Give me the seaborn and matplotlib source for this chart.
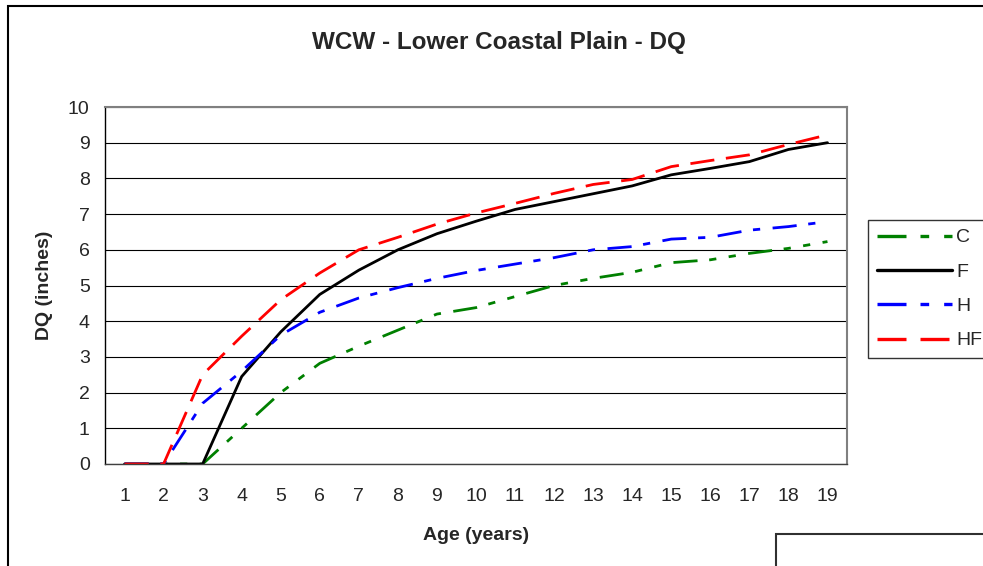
import numpy as np
import pandas as pd
import matplotlib
matplotlib.use("Agg")
import matplotlib.pyplot as plt
from matplotlib.patches import Rectangle
from matplotlib.ticker import MultipleLocator, FixedLocator
import seaborn as sns

ages = list(range(1, 20))
C = [0, 0, 0, 1.0, 2.0, 2.82, 3.3, 3.75, 4.2, 4.38, 4.69, 5.0, 5.2, 5.37, 5.64, 5.72, 5.9, 6.04, 6.23]
F = [0, 0, 0, 2.45, 3.7, 4.75, 5.43, 6.0, 6.45, 6.8, 7.13, 7.35, 7.57, 7.79, 8.1, 8.28, 8.47, 8.81, 9.0]
H = [0, 0, 1.7, 2.6, 3.61, 4.25, 4.65, 4.94, 5.2, 5.42, 5.6, 5.78, 6.0, 6.09, 6.3, 6.35, 6.55, 6.65, 6.79]
HF = [0, 0, 2.5, 3.58, 4.6, 5.35, 6.0, 6.35, 6.72, 7.03, 7.3, 7.58, 7.83, 7.97, 8.33, 8.5, 8.66, 8.95, 9.22]
series = ["C", "F", "H", "HF"]

df = pd.DataFrame({"Age": ages * 4,
                   "DQ": C + F + H + HF,
                   "Treatment": sum([[s] * len(ages) for s in series], [])})

colors = {"C": "#008000", "F": "#000000", "H": "#0000ff", "HF": "#ff0000"}
dashes = {"C": (8.7, 4.2, 2.6, 4.5, 2.6, 4.5),
          "F": "",
          "H": (8.7, 4.2, 2.6, 4.5),
          "HF": (8.7, 4.2)}

sns.set_style("white")
plt.rcParams["font.family"] = ["Liberation Sans", "DejaVu Sans"]

fig = plt.figure(figsize=(9.83, 5.66), dpi=100)
ax = fig.add_axes([105 / 983, 102 / 566, 742 / 983, 357 / 566])

sns.lineplot(data=df, x="Age", y="DQ", hue="Treatment", style="Treatment",
             palette=colors, dashes=dashes, linewidth=2.0, ax=ax)

ax.set_xlim(0.5, 19.5)
ax.set_ylim(0, 10)
ax.yaxis.set_major_locator(MultipleLocator(1))
ax.xaxis.set_major_locator(FixedLocator(np.arange(0.5, 20, 1)))
ax.xaxis.set_minor_locator(FixedLocator(ages))
ax.xaxis.set_major_formatter(plt.NullFormatter())
ax.xaxis.set_minor_formatter(plt.FixedFormatter([str(a) for a in ages]))
ax.tick_params(axis="x", which="major", direction="out", length=5, width=1, color="#404040")
ax.tick_params(axis="x", which="minor", length=0, pad=17, labelsize=14)
ax.tick_params(axis="y", direction="out", length=5, width=1, color="#000000", labelsize=14, pad=6)
ax.grid(axis="y", color="#000000", linewidth=0.8)
ax.set_axisbelow(True)

for side in ["top", "right"]:
    ax.spines[side].set_color("#808080")
    ax.spines[side].set_linewidth(1.5)
ax.spines["left"].set_color("#000000")
ax.spines["bottom"].set_color("#404040")
for side in ["left", "bottom"]:
    ax.spines[side].set_linewidth(1)

ax.set_xlabel("Age (years)", fontsize=14, fontweight="bold", labelpad=16)
ax.set_ylabel("DQ (inches)", fontsize=14, fontweight="bold", labelpad=11)
fig.text(499 / 983, 1 - 42 / 566, "WCW - Lower Coastal Plain - DQ", ha="center", va="center",
         fontsize=17.5, fontweight="bold")

sns.move_legend(ax, loc="upper left", bbox_to_anchor=(868 / 983, 1 - 220 / 566),
                bbox_transform=fig.transFigure, title=None, frameon=True,
                fontsize=14, handlelength=3.85, labelspacing=0.86, borderaxespad=0,
                handletextpad=0.25, borderpad=0.45, fancybox=False)
leg = ax.get_legend()
leg.get_frame().set_edgecolor("#000000")
leg.get_frame().set_linewidth(1)
for line in leg.get_lines():
    line.set_linewidth(2.4)

# outer chart frame and the neighbouring box
fig.patches.append(Rectangle((8 / 983, -0.1), 1.2, 1 - 6 / 566 + 0.1, transform=fig.transFigure,
                             fill=False, edgecolor="#000000", linewidth=1.5))
fig.patches.append(Rectangle((776 / 983, -0.1), 0.5, 0.1 + 32 / 566, transform=fig.transFigure,
                             fill=False, edgecolor="#303030", linewidth=1.5))

fig.savefig("out.png", dpi=100)
